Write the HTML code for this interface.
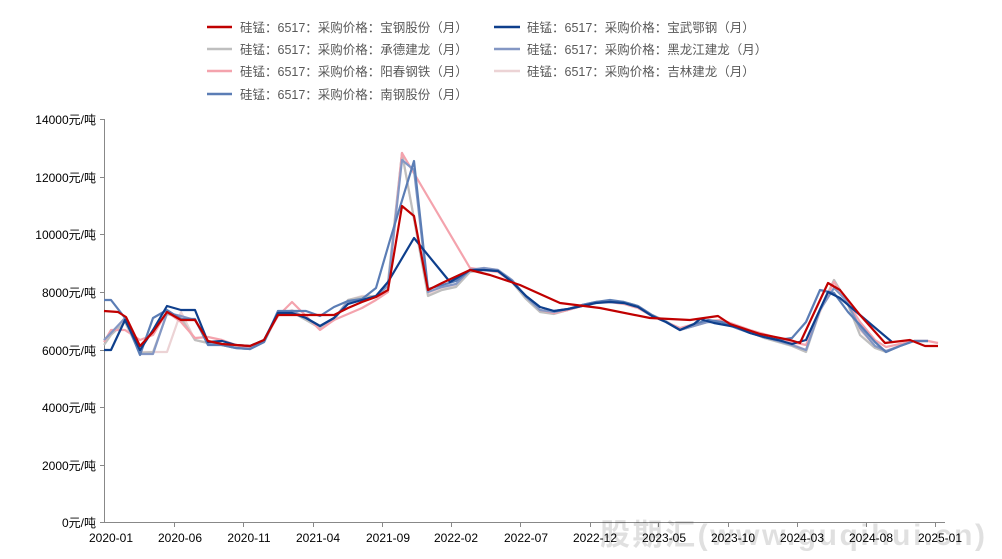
<!DOCTYPE html>
<html><head><meta charset="utf-8"><style>
body{margin:0;background:#fff;}
svg{display:block;font-family:"Liberation Sans","Noto Sans CJK SC",sans-serif;}
.lg{font-size:12.5px;fill:#595959;}
.yt{font-size:12px;fill:#000;}
.xt{font-size:12px;fill:#000;}
polyline{fill:none;stroke-width:2.2;stroke-linejoin:round;}
</style></head><body>
<svg width="1002" height="559" viewBox="0 0 1002 559">
<!-- legend -->
<g class="lg">
<line x1="207" y1="27" x2="232" y2="27" stroke="#c00000" stroke-width="2.5"/><text x="240" y="32">硅锰：6517：采购价格：宝钢股份（月）</text>
<line x1="494" y1="27" x2="520" y2="27" stroke="#0e3f8c" stroke-width="2.5"/><text x="527" y="32">硅锰：6517：采购价格：宝武鄂钢（月）</text>
<line x1="207" y1="49" x2="232" y2="49" stroke="#bfbfbf" stroke-width="2.5"/><text x="240" y="54">硅锰：6517：采购价格：承德建龙（月）</text>
<line x1="494" y1="49" x2="520" y2="49" stroke="#8497c4" stroke-width="2.5"/><text x="527" y="54">硅锰：6517：采购价格：黑龙江建龙（月）</text>
<line x1="207" y1="71" x2="232" y2="71" stroke="#f4a3ad" stroke-width="2.5"/><text x="240" y="76">硅锰：6517：采购价格：阳春钢铁（月）</text>
<line x1="494" y1="71" x2="520" y2="71" stroke="#ecd3d5" stroke-width="2.5"/><text x="527" y="76">硅锰：6517：采购价格：吉林建龙（月）</text>
<line x1="207" y1="94" x2="232" y2="94" stroke="#5b7db5" stroke-width="2.5"/><text x="240" y="99">硅锰：6517：采购价格：南钢股份（月）</text>
</g>
<!-- axes -->
<g stroke="#888" stroke-width="1">
<line x1="104.5" y1="119" x2="104.5" y2="523"/>
<line x1="104" y1="522.5" x2="945" y2="522.5"/>
<line x1="100" y1="119.5" x2="104" y2="119.5"/><line x1="100" y1="177.5" x2="104" y2="177.5"/>
<line x1="100" y1="234.5" x2="104" y2="234.5"/><line x1="100" y1="292.5" x2="104" y2="292.5"/>
<line x1="100" y1="350.5" x2="104" y2="350.5"/><line x1="100" y1="407.5" x2="104" y2="407.5"/>
<line x1="100" y1="465.5" x2="104" y2="465.5"/><line x1="100" y1="522.5" x2="104" y2="522.5"/>
<line x1="174.5" y1="522" x2="174.5" y2="527"/><line x1="243.5" y1="522" x2="243.5" y2="527"/>
<line x1="313.5" y1="522" x2="313.5" y2="527"/><line x1="382.5" y1="522" x2="382.5" y2="527"/>
<line x1="451.5" y1="522" x2="451.5" y2="527"/><line x1="520.5" y1="522" x2="520.5" y2="527"/>
<line x1="590.5" y1="522" x2="590.5" y2="527"/><line x1="658.5" y1="522" x2="658.5" y2="527"/>
<line x1="728.5" y1="522" x2="728.5" y2="527"/><line x1="797.5" y1="522" x2="797.5" y2="527"/>
<line x1="866.5" y1="522" x2="866.5" y2="527"/><line x1="935.5" y1="522" x2="935.5" y2="527"/>
</g>
<g class="yt" text-anchor="end">
<text x="96" y="124">14000元/吨</text><text x="96" y="182">12000元/吨</text>
<text x="96" y="239">10000元/吨</text><text x="96" y="297">8000元/吨</text>
<text x="96" y="355">6000元/吨</text><text x="96" y="412">4000元/吨</text>
<text x="96" y="470">2000元/吨</text><text x="96" y="527">0元/吨</text>
</g>
<g class="xt" text-anchor="middle">
<text x="111" y="542">2020-01</text><text x="180" y="542">2020-06</text><text x="249" y="542">2020-11</text>
<text x="318" y="542">2021-04</text><text x="388" y="542">2021-09</text><text x="456" y="542">2022-02</text>
<text x="526" y="542">2022-07</text><text x="595" y="542">2022-12</text><text x="664" y="542">2023-05</text>
<text x="733" y="542">2023-10</text><text x="802" y="542">2024-03</text><text x="871" y="542">2024-08</text>
<text x="940" y="542">2025-01</text>
</g>
<!-- series -->
<polyline stroke="#ecd3d5" points="104,340 111,333 125,320 140,352 167,352 181,312 195,340 208,343 222,345 236,347 250,348 264,342 278,315 292,310 306,318 320,328 334,320 348,300 362,296 376,296 388,285 402,153 428,294 442,288 456,285 470,270 484,268 498,270 512,280 526,297 540,311 554,313 568,310 582,306 596,302 610,301 624,302 638,306 652,315 666,321 680,330 694,326 708,322 722,322 736,327 750,332 764,336 778,340 792,344 806,350 820,312 834,280 846,300 860,330 875,346 886,351 900,346 914,341 928,341"/>
<polyline stroke="#bfbfbf" points="104,345 111,335 125,322 140,353 153,352 167,314 181,318 195,340 208,343 222,345 236,348 250,349 264,342 278,314 292,312 306,320 320,328 334,320 348,300 362,297 376,296 388,282 402,153 428,296 442,290 456,287 470,272 484,270 498,270 512,282 526,299 540,312 554,314 568,310 582,306 596,302 610,301 624,302 638,306 652,315 666,321 680,330 694,326 708,322 722,322 736,327 750,332 764,338 778,342 792,346 806,352 820,310 834,280 846,300 860,335 875,348 886,352 900,346 914,341 928,341"/>
<polyline stroke="#f4a3ad" points="104,342 111,330 125,330 140,340 153,335 167,312 181,322 195,338 208,337 222,340 236,345 250,348 264,340 278,316 292,302 306,316 320,330 334,320 348,314 362,308 376,300 388,292 402,153 470,268 484,270 498,272 512,282 526,296 540,310 554,313 568,310 582,306 596,302 610,302 624,304 638,308 652,316 666,322 680,328 694,324 708,321 722,320 736,325 750,330 764,334 778,338 792,342 806,345 820,310 834,282 846,300 860,322 875,340 886,347 900,344 914,341 928,341 938,343"/>
<polyline stroke="#8497c4" points="104,340 111,333 125,318 140,354 153,354 167,313 181,316 195,320 208,343 222,345 236,348 250,349 264,342 278,313 292,311 306,318 320,326 334,318 348,302 362,300 376,296 388,286 402,160 414,170 428,292 442,287 456,284 470,270 484,268 498,270 512,280 526,297 540,310 554,312 568,309 582,305 596,302 610,302 624,303 638,307 652,316 666,322 680,330 694,326 708,322 722,322 736,327 750,333 764,337 778,341 792,345 806,350 820,310 834,288 846,300 860,328 875,346 886,351 900,346 914,341 928,341"/>
<polyline stroke="#5b7db5" points="104,300 111,300 125,318 140,355 153,318 167,310 181,319 195,319 208,345 222,345 236,348 250,349 264,342 278,311 292,311 306,311 320,316 334,307 348,301 362,299 376,288 390,240 414,161 428,289 442,285 456,281 470,270 484,270 498,271 512,281 526,296 540,307 554,311 568,309 582,305 596,302 610,300 624,302 638,306 652,315 666,322 680,330 694,324 708,320 722,322 736,328 750,333 764,337 778,340 792,338 806,322 820,290 834,293 848,312 860,325 875,342 886,352 900,346 914,341 928,341"/>
<polyline stroke="#0e3f8c" points="104,350 111,350 125,320 140,350 153,330 167,306 181,310 195,310 208,342 222,341 236,345 250,346 264,340 278,313 292,313 306,318 320,326 334,318 348,304 362,300 376,296 388,282 414,238 450,282 470,270 484,270 498,271 512,282 526,296 540,307 554,311 568,309 582,306 596,303 610,302 624,303 638,307 652,316 666,322 680,330 694,324 700,319 714,323 736,327 750,333 764,337 778,340 792,344 806,340 828,292 840,298 860,315 892,342"/>
<polyline stroke="#c00000" points="104,311 118,312 126,317 140,346 153,332 167,312 181,320 195,320 208,341 222,344 236,345 250,346 264,340 278,315 292,315 306,315 320,315 334,315 348,308 362,302 376,297 388,290 402,206 414,216 428,290 442,283 470,270 490,275 520,285 560,303 600,308 650,318 690,320 718,316 730,324 760,334 790,340 800,343 828,283 840,290 860,315 885,343 910,340 925,346 938,346"/>
<!-- watermark -->
<text x="600" y="545" font-size="30" font-weight="bold" fill="#000" fill-opacity="0.12" font-family="'Liberation Sans','Noto Sans CJK SC',sans-serif" textLength="385">股期汇(www.guqihui.cn)</text>
</svg>
</body></html>
